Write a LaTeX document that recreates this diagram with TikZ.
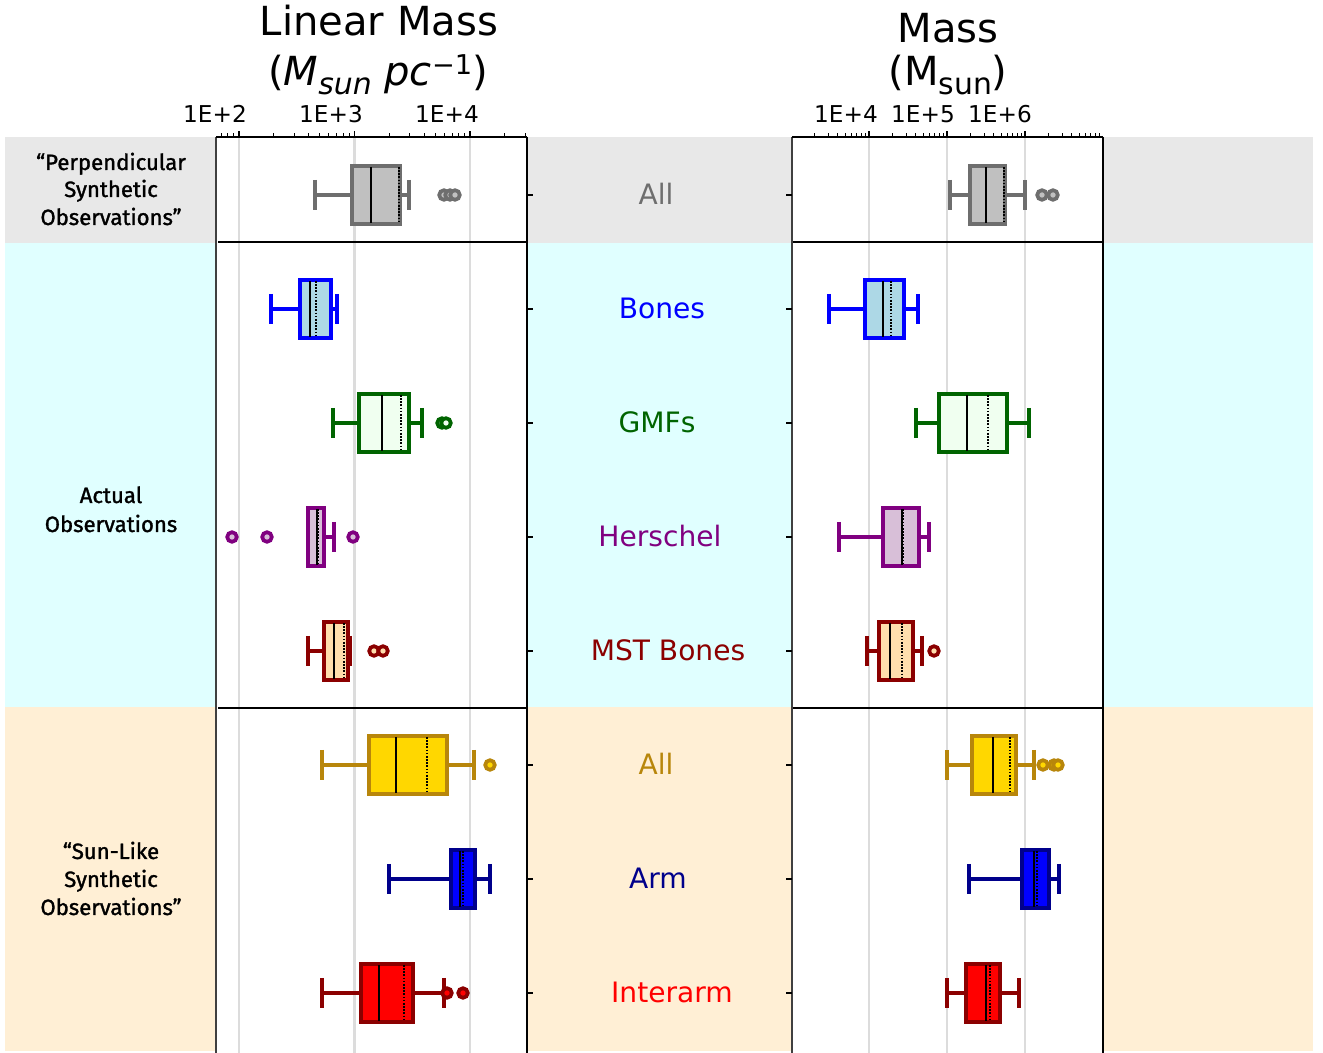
\documentclass[tikz,border=0pt]{standalone}
\usepackage{fontspec}
\setmainfont{DejaVu Sans}
\newfontfamily\rowfont[FakeBold=1.4]{Fira Sans}
\definecolor{bgGrey}{HTML}{E8E8E8}
\definecolor{bgCyan}{HTML}{E0FFFF}
\definecolor{bgBeige}{HTML}{FFEFD5}
\definecolor{gridC}{HTML}{DCDCDC}
\definecolor{greyEdge}{HTML}{6E6E6E}
\definecolor{greyFill}{HTML}{C0C0C0}
\definecolor{lblue}{HTML}{ADD8E6}
\definecolor{dgreen}{HTML}{006400}
\definecolor{honey}{HTML}{F0FFF0}
\definecolor{purp}{HTML}{800080}
\definecolor{thist}{HTML}{D8BFD8}
\definecolor{dred}{HTML}{8B0000}
\definecolor{navajo}{HTML}{FFDEAD}
\definecolor{dgold}{HTML}{B8860B}
\definecolor{goldF}{HTML}{FFD700}
\definecolor{navyC}{HTML}{00008B}
\tikzset{
  lw/.style={line width=2.1pt},
  medline/.style={black, line width=1.2pt},
  meanline/.style={black, line width=1.2pt, dash pattern=on 0.9pt off 0.9pt},
  gridline/.style={gridC, line width=1.3pt},
  sepline/.style={black, line width=1.4pt},
  axisline/.style={black, line width=0.9pt},
  tickmark/.style={black, line width=0.6pt},
  ticklbl/.style={anchor=base, font=\fontsize{13.2}{16}\selectfont},
  titlelbl/.style={anchor=base, font=\fontsize{22.8}{27}\selectfont},
  catlbl/.style={anchor=base, font=\fontsize{16}{19}\selectfont},
  rowlbl/.style={anchor=base, font=\rowfont\fontsize{12.6}{15}\selectfont},
}
\newcommand\subtx[1]{\raisebox{-4.8pt}{\fontsize{17}{20}\selectfont #1}}
\newcommand\suptx[1]{\raisebox{6.3pt}{\fontsize{15.5}{18}\selectfont #1}}
% y wl q1 med mean q3 wr fill edge
\newcommand\bxp[9]{%
  \draw[#9, lw] (#2,#1-15) -- (#2,#1+15) (#2,#1) -- (#3,#1) (#6,#1) -- (#7,#1) (#7,#1-15) -- (#7,#1+15);
  \filldraw[fill=#8, draw=#9, lw] (#3,#1-29) rectangle (#6,#1+29);
  \draw[medline] (#4,#1-28) -- (#4,#1+28);
  \draw[meanline] (#5,#1-28) -- (#5,#1+28);
}
% y fill edge list
\newcommand\outl[4]{%
  \foreach \ox in {#4} {\filldraw[fill=#2, draw=#3, lw] (\ox,#1) circle[radius=4.8];}
}
\begin{document}
\begin{tikzpicture}[x=0.02cm,y=-0.02cm]
\useasboundingbox (0,0) rectangle (1323,1053);
\fill[white] (0,0) rectangle (1323,1053);
% bands
\fill[bgGrey] (5,137) rectangle (1313,243);
\fill[bgCyan] (5,243) rectangle (1313,707);
\fill[bgBeige] (5,707) rectangle (1313,1051);
% panels
\fill[white] (216,137) rectangle (527,1053);
\fill[white] (792,137) rectangle (1103,1053);
% grid
\foreach \gx in {239,354.5,470,869,947,1025} {\draw[gridline] (\gx,138) -- (\gx,1053);}
% separators
\draw[sepline] (218,242) -- (527,242) (218,708) -- (527,708);
\draw[sepline] (793,242) -- (1103,242) (793,708) -- (1103,708);
% box plots left
\bxp{195}{315}{352}{371}{399}{400}{409}{greyFill}{greyEdge}
\outl{195}{greyFill}{greyEdge}{444,450,455}
\bxp{309}{271}{300}{310}{316}{331}{337}{lblue}{blue}
\bxp{423}{333}{359}{382}{401}{409}{422}{honey}{dgreen}
\outl{423}{honey}{dgreen}{442,446}
\bxp{537}{308}{308}{317}{318}{324}{334}{thist}{purp}
\outl{537}{thist}{purp}{232,267,353}
\bxp{651}{308}{324}{334}{344}{348}{350}{navajo}{dred}
\outl{651}{navajo}{dred}{374,383}
\bxp{765}{322}{369}{396}{427}{447}{474}{goldF}{dgold}
\outl{765}{goldF}{dgold}{490}
\bxp{879}{389}{451}{460}{463}{475}{490}{blue}{navyC}
\bxp{993}{322}{361}{379}{404}{413}{444}{red}{dred}
\outl{993}{red}{dred}{447,463}
% box plots right
\bxp{195}{950}{970}{986}{1004}{1005}{1025}{greyFill}{greyEdge}
\outl{195}{greyFill}{greyEdge}{1042,1053}
\bxp{309}{829}{865}{883}{891}{904}{918}{lblue}{blue}
\bxp{423}{916}{939}{967}{988}{1007}{1029}{honey}{dgreen}
\bxp{537}{839}{883}{902}{903}{919}{929}{thist}{purp}
\bxp{651}{867}{879}{890}{902}{913}{922}{navajo}{dred}
\outl{651}{navajo}{dred}{934}
\bxp{765}{947}{972}{993}{1010}{1016}{1034}{goldF}{dgold}
\outl{765}{goldF}{dgold}{1043,1054,1058}
\bxp{879}{969}{1022}{1034}{1037}{1049}{1059}{blue}{navyC}
\bxp{993}{947}{966}{986}{990}{1000}{1019}{red}{dred}
% panel borders
\draw[black!75, line width=1.1pt] (216,137) -- (216,1053);
\draw[black, line width=1.1pt] (527,137) -- (527,1053);
\draw[black!75, line width=1.1pt] (792,137) -- (792,1053);
\draw[black, line width=1.1pt] (1103,137) -- (1103,1053);
% top axes
\draw[axisline] (216,137) -- (527,137);
\draw[axisline] (792,137) -- (1103,137);
\foreach \d in {1,...,4} \foreach \m in {2,...,9} {
  \pgfmathsetmacro\tx{239+115.5*(\d-2+log10(\m))}
  \pgfmathtruncatemacro\ok{(\tx>217)&&(\tx<526)?1:0}
  \ifnum\ok=1 \draw[tickmark] (\tx,137) -- (\tx,133.5); \fi
}
\foreach \d in {3,...,6} \foreach \m in {2,...,9} {
  \pgfmathsetmacro\tx{869+78*(\d-4+log10(\m))}
  \pgfmathtruncatemacro\ok{(\tx>793)&&(\tx<1102)?1:0}
  \ifnum\ok=1 \draw[tickmark] (\tx,137) -- (\tx,133.5); \fi
}
\foreach \tx in {239,354.5,470,869,947,1025} {\draw[tickmark] (\tx,137) -- (\tx,131);}
% row ticks
\foreach \ry in {195,309,423,537,651,765,879,993} {
  \draw[tickmark] (527,\ry) -- (533,\ry);
  \draw[tickmark] (786,\ry) -- (792,\ry);
}
% titles
\node[titlelbl] (tL1) at (379,36) {Linear Mass};
\node[titlelbl] (tL2) at (378,86) {(\textit{M}\subtx{\textit{sun}} \textit{pc}\suptx{\char"2212 1})};
\node[titlelbl] (tR1) at (948,43) {Mass};
\node[titlelbl] (tR2) at (948,86) {(M\subtx{sun})};
% tick labels
\node[ticklbl] (x2) at (215,123) {1E+2};
\node[ticklbl] (x3) at (331,123) {1E+3};
\node[ticklbl] (x4) at (447,123) {1E+4};
\node[ticklbl] (m4) at (846,123) {1E+4};
\node[ticklbl] (m5) at (923,123) {1E+5};
\node[ticklbl] (m6) at (1000,123) {1E+6};
% category labels
\node[catlbl, greyEdge] (c1) at (656,205) {All};
\node[catlbl, blue] (c2) at (662,319) {Bones};
\node[catlbl, dgreen] (c3) at (657,433) {GMFs};
\node[catlbl, purp] (c4) at (660,547) {Herschel};
\node[catlbl, dred] (c5) at (668,661) {MST Bones};
\node[catlbl, dgold] (c6) at (656,775) {All};
\node[catlbl, navyC] (c7) at (658,889) {Arm};
\node[catlbl, red] (c8) at (672,1003) {Interarm};
% row labels
\node[rowlbl] (r1a) at (111,170) {“Perpendicular};
\node[rowlbl] (r1b) at (111,197) {Synthetic};
\node[rowlbl] (r1c) at (111,225) {Observations”};
\node[rowlbl] (r2a) at (111,503) {Actual};
\node[rowlbl] (r2b) at (111,532) {Observations};
\node[rowlbl] (r3a) at (111,859) {“Sun-Like};
\node[rowlbl] (r3b) at (111,887) {Synthetic};
\node[rowlbl] (r3c) at (111,915) {Observations”};
\end{tikzpicture}
\end{document}
